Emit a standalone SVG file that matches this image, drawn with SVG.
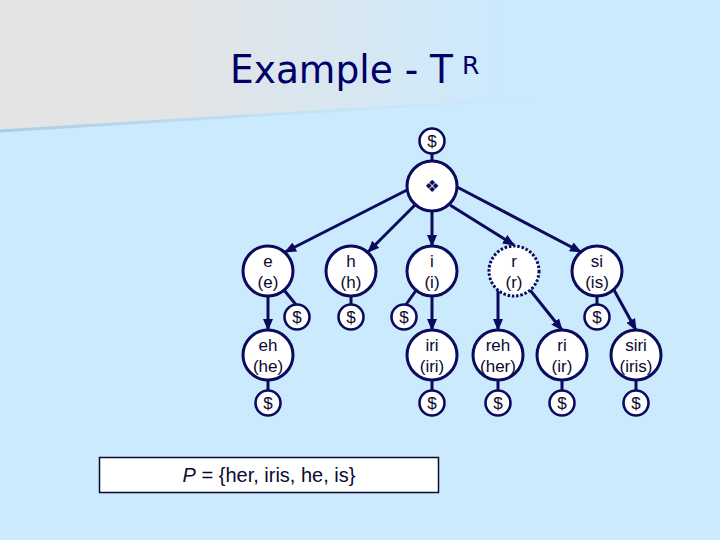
<svg xmlns="http://www.w3.org/2000/svg" width="720" height="540" viewBox="0 0 720 540">
<defs>
<linearGradient id="bgG" x1="0" y1="0" x2="720" y2="0" gradientUnits="userSpaceOnUse">
<stop offset="0" stop-color="#E4E4E4"/>
<stop offset="0.25" stop-color="#E3E4E5"/>
<stop offset="0.7" stop-color="#CCEAFD"/>
</linearGradient>
<linearGradient id="shG" x1="0" y1="0" x2="720" y2="0" gradientUnits="userSpaceOnUse">
<stop offset="0" stop-color="#A8CDE6" stop-opacity="1"/>
<stop offset="0.75" stop-color="#BFE0F5" stop-opacity="0"/>
</linearGradient>
<marker id="arr" viewBox="0 0 12 10" refX="11" refY="5" markerWidth="12" markerHeight="10" markerUnits="userSpaceOnUse" orient="auto">
<path d="M0,0 L12,5 L0,10 Z" fill="#0B0B5E"/>
</marker>
<style>
.big{fill:#fff;stroke:#0B0B5E;stroke-width:3}
.dot{fill:#fff;stroke:#0B0B5E;stroke-width:3;stroke-dasharray:2.5 1.8}
.sm{fill:#fff;stroke:#0B0B5E;stroke-width:2.6}
.lbl{font-family:"Liberation Sans",Arial,sans-serif;font-size:17px;fill:#0A0A30;text-anchor:middle}
.ln{stroke:#0B0B5E;stroke-width:3;fill:none}
.ar{stroke:#0B0B5E;stroke-width:3;fill:none;marker-end:url(#arr)}
</style>
</defs>
<rect x="0" y="0" width="720" height="540" fill="#CCEAFD"/>
<polygon points="0,0 720,0 720,86 0,130" fill="url(#bgG)"/>
<line x1="0" y1="131" x2="720" y2="87" stroke="url(#shG)" stroke-width="3"/>
<g id="title">
<text x="230" y="83" font-family="'DejaVu Sans',Tahoma,Verdana,sans-serif" font-size="39" fill="#000066" textLength="223" lengthAdjust="spacingAndGlyphs">Example - T</text>
<text x="462" y="74" font-family="'DejaVu Sans',Tahoma,Verdana,sans-serif" font-size="25" fill="#000066">R</text>
</g>
<g id="connectors">
<line class="ln" x1="432" y1="153" x2="432" y2="162"/>
<line class="ar" x1="407" y1="190" x2="285" y2="252"/>
<line class="ar" x1="415" y1="205" x2="368" y2="252"/>
<line class="ar" x1="432" y1="211" x2="432" y2="246"/>
<line class="ar" x1="450" y1="205" x2="514" y2="245"/>
<line class="ar" x1="457" y1="187" x2="581" y2="252"/>
<line class="ar" x1="268" y1="296" x2="268" y2="330"/>
<line class="ln" x1="284" y1="290" x2="297" y2="306"/>
<line class="ln" x1="351" y1="296" x2="351" y2="305"/>
<line class="ln" x1="417" y1="289" x2="405" y2="306"/>
<line class="ar" x1="432" y1="296" x2="432" y2="330"/>
<line class="ar" x1="498" y1="290" x2="498" y2="330"/>
<line class="ar" x1="530" y1="290" x2="562" y2="330"/>
<line class="ln" x1="597" y1="296" x2="597" y2="305"/>
<line class="ar" x1="614" y1="290" x2="636" y2="330"/>
<line class="ln" x1="268" y1="380" x2="268" y2="391"/>
<line class="ln" x1="432" y1="380" x2="432" y2="391"/>
<line class="ln" x1="498" y1="380" x2="498" y2="391"/>
<line class="ln" x1="562" y1="380" x2="562" y2="391"/>
<line class="ln" x1="636" y1="380" x2="636" y2="391"/>
</g>
<g id="root-end"><circle class="sm" cx="432" cy="141" r="12.5"/><text class="lbl" x="432" y="147">$</text></g>
<g id="root"><circle class="big" cx="432" cy="186" r="25"/><text x="432" y="192" font-family="'DejaVu Sans',sans-serif" font-size="17" fill="#0B0B5E" text-anchor="middle">❖</text></g>
<g id="n-e"><circle class="big" cx="268" cy="271" r="25"/><text class="lbl" x="268" y="267">e</text><text class="lbl" x="268" y="288">(e)</text></g>
<g id="n-h"><circle class="big" cx="351" cy="271" r="25"/><text class="lbl" x="351" y="267">h</text><text class="lbl" x="351" y="288">(h)</text></g>
<g id="n-i"><circle class="big" cx="432" cy="271" r="25"/><text class="lbl" x="432" y="267">i</text><text class="lbl" x="432" y="288">(i)</text></g>
<g id="n-r"><circle class="dot" cx="514" cy="271" r="25"/><text class="lbl" x="514" y="267">r</text><text class="lbl" x="514" y="288">(r)</text></g>
<g id="n-si"><circle class="big" cx="597" cy="271" r="25"/><text class="lbl" x="597" y="267">si</text><text class="lbl" x="597" y="288">(is)</text></g>
<g id="d-e"><circle class="sm" cx="297" cy="317" r="12.5"/><text class="lbl" x="297" y="323">$</text></g>
<g id="d-h"><circle class="sm" cx="351" cy="317" r="12.5"/><text class="lbl" x="351" y="323">$</text></g>
<g id="d-i"><circle class="sm" cx="404" cy="317" r="12.5"/><text class="lbl" x="404" y="323">$</text></g>
<g id="d-si"><circle class="sm" cx="597" cy="317" r="12.5"/><text class="lbl" x="597" y="323">$</text></g>
<g id="n-eh"><circle class="big" cx="268" cy="355" r="25"/><text class="lbl" x="268" y="351">eh</text><text class="lbl" x="268" y="372">(he)</text></g>
<g id="n-iri"><circle class="big" cx="432" cy="355" r="25"/><text class="lbl" x="432" y="351">iri</text><text class="lbl" x="432" y="372">(iri)</text></g>
<g id="n-reh"><circle class="big" cx="498" cy="355" r="25"/><text class="lbl" x="498" y="351">reh</text><text class="lbl" x="498" y="372">(her)</text></g>
<g id="n-ri"><circle class="big" cx="562" cy="355" r="25"/><text class="lbl" x="562" y="351">ri</text><text class="lbl" x="562" y="372">(ir)</text></g>
<g id="n-siri"><circle class="big" cx="636" cy="355" r="25"/><text class="lbl" x="636" y="351">siri</text><text class="lbl" x="636" y="372">(iris)</text></g>
<g id="d-eh"><circle class="sm" cx="268" cy="403" r="12.5"/><text class="lbl" x="268" y="409">$</text></g>
<g id="d-iri"><circle class="sm" cx="432" cy="403" r="12.5"/><text class="lbl" x="432" y="409">$</text></g>
<g id="d-reh"><circle class="sm" cx="498" cy="403" r="12.5"/><text class="lbl" x="498" y="409">$</text></g>
<g id="d-ri"><circle class="sm" cx="562" cy="403" r="12.5"/><text class="lbl" x="562" y="409">$</text></g>
<g id="d-siri"><circle class="sm" cx="636" cy="403" r="12.5"/><text class="lbl" x="636" y="409">$</text></g>
<g id="pset">
<rect x="99.5" y="457.5" width="339" height="35" fill="#fff" stroke="#0A0A30" stroke-width="1.5"/>
<text x="269" y="482" font-family="'Liberation Sans',Arial,sans-serif" font-size="20" fill="#0A0A30" text-anchor="middle"><tspan font-style="italic">P</tspan> = {her, iris, he, is}</text>
</g>
</svg>
